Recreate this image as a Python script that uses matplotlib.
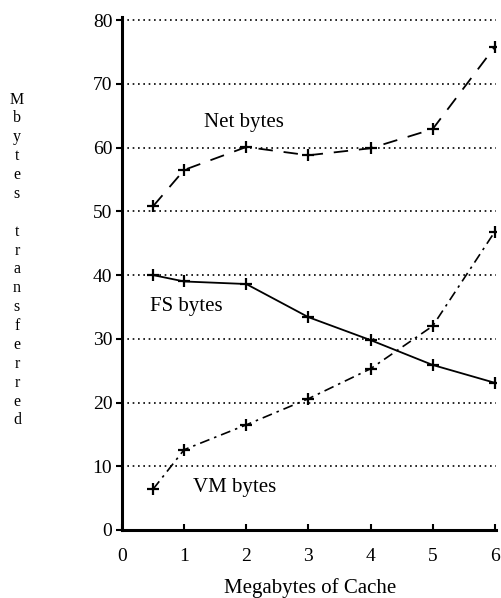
import matplotlib
matplotlib.use("Agg")
import matplotlib.pyplot as plt

plt.rcParams['font.family'] = ['Liberation Serif', 'DejaVu Serif']

# cache size in megabytes
cache_mb = [0.5, 1, 2, 3, 4, 5, 6]

# megabytes transferred
net_bytes = [50.8, 56.5, 60.1, 58.8, 59.9, 62.9, 75.8]
fs_bytes = [40.0, 39.0, 38.6, 33.4, 29.8, 25.9, 23.1]
vm_bytes = [6.4, 12.6, 16.5, 20.6, 25.3, 32.0, 46.8]

x_ticks = [0, 1, 2, 3, 4, 5, 6]
y_ticks = [0, 10, 20, 30, 40, 50, 60, 70, 80]

fig = plt.figure(figsize=(5.01, 5.98), dpi=100)
ax = fig.add_axes([122 / 501, 68 / 598, 374 / 501, 513 / 598])

# dotted horizontal grid
for yv in y_ticks[1:]:
    ax.axhline(yv, color='black', lw=1.2, ls=(0, (1, 2.2)), zorder=1)

mk = dict(marker='+', ms=8, mew=1.6, color='black', zorder=3)
ax.plot(cache_mb, net_bytes, lw=1.3, ls=(0, (8, 6)), **mk)
ax.plot(cache_mb, fs_bytes, lw=1.3, ls='-', **mk)
ax.plot(cache_mb, vm_bytes, lw=1.2, ls=(0, (6, 3, 1.5, 3)), **mk)

ax.text(1.97, 64, 'Net bytes', fontsize=15, ha='center', va='center')
ax.text(1.03, 35, 'FS bytes', fontsize=15, ha='center', va='center')
ax.text(1.82, 6.7, 'VM bytes', fontsize=15, ha='center', va='center')

ax.set_xlim(0, 6.02)
ax.set_ylim(0, 80.5)
ax.set_xticks(x_ticks)
ax.set_yticks(y_ticks)
ax.tick_params(axis='y', direction='out', length=4, width=1.5, labelsize=14, pad=3)
ax.tick_params(axis='x', direction='in', length=4, width=1.5, labelsize=14, pad=13)

for side in ['top', 'right']:
    ax.spines[side].set_visible(False)
for side in ['left', 'bottom']:
    ax.spines[side].set_linewidth(2.2)

fig.text(310 / 501, 1 - 588 / 598, 'Megabytes of Cache', fontsize=15,
         ha='center', va='center')

ylab = '\n'.join(list('Mbytes') + [''] + list('transferred'))
fig.text(17 / 501, 1 - 260 / 598, ylab, fontsize=11.5, ha='center', va='center',
         linespacing=1.24)

fig.savefig('out.png', dpi=100)
